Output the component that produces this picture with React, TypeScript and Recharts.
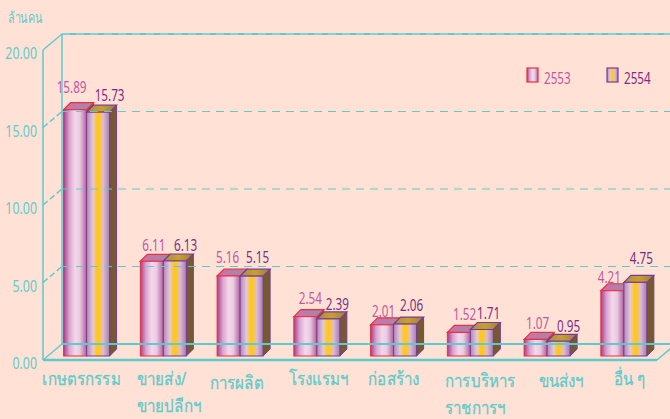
import { BarChart, Bar, XAxis, YAxis, ReferenceLine, LabelList, Legend } from 'recharts'

// ─── Data (ล้านคน) ───────────────────────────────────────────
const categories = ['เกษตรกรรม', 'ขายส่ง/\nขายปลีกฯ', 'การผลิต', 'โรงแรมฯ', 'ก่อสร้าง', 'การบริหาร\nราชการฯ', 'ขนส่งฯ', 'อื่น ๆ']
const values2553 = [15.89, 6.11, 5.16, 2.54, 2.01, 1.52, 1.07, 4.21]
const values2554 = [15.73, 6.13, 5.15, 2.39, 2.06, 1.71, 0.95, 4.75]
const yTicks = [0, 5, 10, 15, 20]

const dados = categories.map((categoria, i) => ({
  categoria,
  a2553: values2553[i],
  a2554: values2554[i],
}))

// ─── Layout tweaks for the fake 3D look ──────────────────────
const W = 670
const H = 419
const DEPTH_X = 19
const DEPTH_Y = 16
const BAR_DX = 5.6
const BAR_DY = -4
const BAR_D = 7

const TEAL = '#5FCACB'
const BG = '#FFE2D5'
const PINK_TXT = '#C0589F'
const PURPLE_TXT = '#7B2D85'
const FONT = '"Noto Sans", sans-serif'
const NARROW = 0.73 // the reference font is condensed

const tickDx = [-39, -21, -25, -23, -20, -20, -3, -5]
const tickDy = [0, 0, 4, 0, 0, 2, 2, 0]
const labelDx2553 = [-3.5, 2, -1, 5, 1.5, 5.7, 2, -3]
const labelDx2554 = [11.5, 10.7, 6, 9, 6.5, 6.7, 10, 6]
const labelDy2553 = [-17, -10, -13, -13, -8, -12, -10, -8]
const labelDy2554 = [-11, -10, -13, -9, -13, -10, -9, -18]

function Bar3D({ x, y, width, height, front, top, side, stroke }: any) {
  const x0 = x + BAR_DX
  const y0 = y + BAR_DY
  const d = BAR_D
  return (
    <g>
      <path d={`M${x0 + width} ${y0 + height}l${d} ${-d}V${y0 - d}l${-d} ${d}Z`} fill={side} stroke={stroke} strokeWidth={1} />
      <path d={`M${x0} ${y0}l${d} ${-d}h${width}l${-d} ${d}Z`} fill={top} stroke={stroke} strokeWidth={1.2} />
      <rect x={x0} y={y0} width={width} height={height} fill={front} stroke={stroke} strokeWidth={1} />
    </g>
  )
}

const Bar2553 = (p: any) => <Bar3D {...p} front="url(#front53)" top="url(#top53)" side="#7A5A36" stroke="#E8303F" />
const Bar2554 = (p: any) => <Bar3D {...p} front="url(#front54)" top="url(#top54)" side="#75592F" stroke="#7C3A8E" />

const valueLabel = (color: string, dxs: number[], dys: number[]) => (p: any) => {
  const i = p.index
  const tx = p.x + p.width / 2 + BAR_DX + dxs[i]
  const ty = p.y + BAR_DY + dys[i]
  return (
    <text transform={`translate(${tx} ${ty}) scale(${NARROW} 1)`} fill={color} fontFamily={FONT} fontSize={16} textAnchor="middle">
      {Number(p.value).toFixed(2)}
    </text>
  )
}

function CategoryTick({ x, y, payload, index }: any) {
  const linhas = String(payload.value).split('\n')
  const tx = x + tickDx[index]
  const ty = y + 17 + tickDy[index]
  return (
    <text transform={`translate(${tx} ${ty}) scale(0.84 1)`} fill={TEAL} stroke={TEAL} strokeWidth={0.3} fontFamily={FONT} fontSize={18}>
      {linhas.map((l, i) => (
        <tspan key={l} x={0} dy={i === 0 ? 0 : 27}>{l}</tspan>
      ))}
    </text>
  )
}

function ValueTick({ x, y, payload }: any) {
  return (
    <text transform={`translate(${x + 2} ${y + 9}) scale(${NARROW} 1)`} fill={TEAL} fontFamily={FONT} fontSize={17} textAnchor="end">
      {Number(payload.value).toFixed(2)}
    </text>
  )
}

// linha da parede: diagonal + tracejado no fundo
function WallLine({ x1, y1 }: any) {
  return (
    <g>
      <line x1={x1} y1={y1} x2={x1 + DEPTH_X} y2={y1 - DEPTH_Y} stroke={TEAL} strokeWidth={1.5} strokeDasharray="6 3" />
      <line x1={x1 + DEPTH_X} y1={y1 - DEPTH_Y} x2={W} y2={y1 - DEPTH_Y} stroke={TEAL} strokeWidth={1.2} strokeDasharray="8 6" />
    </g>
  )
}

function WallFrame({ x1, x2, y1 }: any) {
  // y1 = base do eixo
  return (
    <g>
      <line x1={x1 + DEPTH_X} y1={y1 - DEPTH_Y} x2={W} y2={y1 - DEPTH_Y} stroke={TEAL} strokeWidth={2} />
      <line x1={x1 + DEPTH_X} y1={34} x2={W} y2={34} stroke={TEAL} strokeWidth={2} />
      <line x1={x1 + DEPTH_X} y1={34} x2={W} y2={34} stroke="#A6DDD8" strokeWidth={1} strokeDasharray="8 6" />
      <line x1={x1 + DEPTH_X} y1={34} x2={x1 + DEPTH_X} y2={y1 - DEPTH_Y} stroke={TEAL} strokeWidth={1.5} />
      <line x1={x1} y1={y1} x2={x1 + DEPTH_X} y2={y1 - DEPTH_Y} stroke={TEAL} strokeWidth={1.5} />
      <line x1={x1} y1={50} x2={x1 + DEPTH_X} y2={34} stroke={TEAL} strokeWidth={1.5} />
      <line x1={x2} y1={y1} x2={x2 + DEPTH_X} y2={y1 - DEPTH_Y} stroke={TEAL} strokeWidth={1.5} />
    </g>
  )
}

function Legenda() {
  const itens = [
    { nome: '2553', fill: 'url(#front53)', stroke: '#E8303F', cor: PINK_TXT, left: 527 },
    { nome: '2554', fill: 'url(#front54)', stroke: '#7C3A8E', cor: PURPLE_TXT, left: 607 },
  ]
  return (
    <div style={{ position: 'relative', width: W, height: 20 }}>
      {itens.map((it) => (
        <div key={it.nome}>
          <svg width={13} height={16} style={{ position: 'absolute', left: it.left - 1, top: 0 }}>
            <rect x={1} y={1} width={11} height={14} fill={it.fill} stroke={it.stroke} strokeWidth={1.2} />
          </svg>
          <span style={{ position: 'absolute', left: it.left + 17, top: 1, color: it.cor, fontFamily: FONT, fontSize: 16, lineHeight: '20px', transform: `scaleX(${NARROW})`, transformOrigin: 'left center' }}>{it.nome}</span>
        </div>
      ))}
    </div>
  )
}

export default function App() {
  return (
    <div style={{ position: 'absolute', left: 0, top: 0, width: W, height: H, background: BG, overflow: 'hidden' }}>
      <BarChart
        width={W}
        height={H}
        data={dados}
        margin={{ top: 50, right: 13, bottom: 0, left: 0 }}
        barSize={23}
        barGap={0}
        barCategoryGap={0}
      >
        <defs>
          <linearGradient id="front53" x1="0" y1="0" x2="1" y2="0">
            <stop offset="0" stopColor="#A83C8C" />
            <stop offset="0.25" stopColor="#DDA4CF" />
            <stop offset="0.5" stopColor="#F2D8EA" />
            <stop offset="0.7" stopColor="#EBCBE2" />
            <stop offset="1" stopColor="#B0609F" />
          </linearGradient>
          <linearGradient id="front54" x1="0" y1="0" x2="1" y2="0">
            <stop offset="0" stopColor="#B085BC" />
            <stop offset="0.28" stopColor="#E4C8DC" />
            <stop offset="0.44" stopColor="#FFC820" />
            <stop offset="0.56" stopColor="#FFC820" />
            <stop offset="0.72" stopColor="#DDBCD8" />
            <stop offset="1" stopColor="#A77CB2" />
          </linearGradient>
          <linearGradient id="top53" x1="0" y1="0" x2="1" y2="0">
            <stop offset="0" stopColor="#D070A8" />
            <stop offset="1" stopColor="#A08AA8" />
          </linearGradient>
          <linearGradient id="top54" x1="0" y1="0" x2="1" y2="0">
            <stop offset="0" stopColor="#A88A50" />
            <stop offset="0.5" stopColor="#C8A030" />
            <stop offset="1" stopColor="#9A7C48" />
          </linearGradient>
        </defs>

        <XAxis
          dataKey="categoria"
          interval={0}
          height={59}
          tick={<CategoryTick />}
          tickLine={false}
          axisLine={{ stroke: TEAL, strokeWidth: 2.5 }}
        />
        <YAxis
          width={43}
          domain={[0, 20]}
          ticks={yTicks}
          tick={<ValueTick />}
          tickLine={false}
          axisLine={{ stroke: TEAL, strokeWidth: 1.5 }}
        />

        <ReferenceLine y={0} shape={<WallFrame />} ifOverflow="visible" />
        <ReferenceLine y={5} shape={<WallLine />} />
        <ReferenceLine y={10} shape={<WallLine />} />
        <ReferenceLine y={15} shape={<WallLine />} />

        <Bar dataKey="a2553" isAnimationActive={false} shape={<Bar2553 />}>
          <LabelList dataKey="a2553" content={valueLabel(PINK_TXT, labelDx2553, labelDy2553)} />
        </Bar>
        <Bar dataKey="a2554" isAnimationActive={false} shape={<Bar2554 />}>
          <LabelList dataKey="a2554" content={valueLabel(PURPLE_TXT, labelDx2554, labelDy2554)} />
        </Bar>

        <Legend
          layout="horizontal"
          verticalAlign="middle"
          align="center"
          content={<Legenda />}
          wrapperStyle={{ position: 'absolute', left: 0, top: 67, width: W, height: 20 }}
        />
        <text transform="translate(8 23) scale(0.72 1)" fill={TEAL} fontFamily={FONT} fontSize={15}>ล้านคน</text>
      </BarChart>
    </div>
  )
}
